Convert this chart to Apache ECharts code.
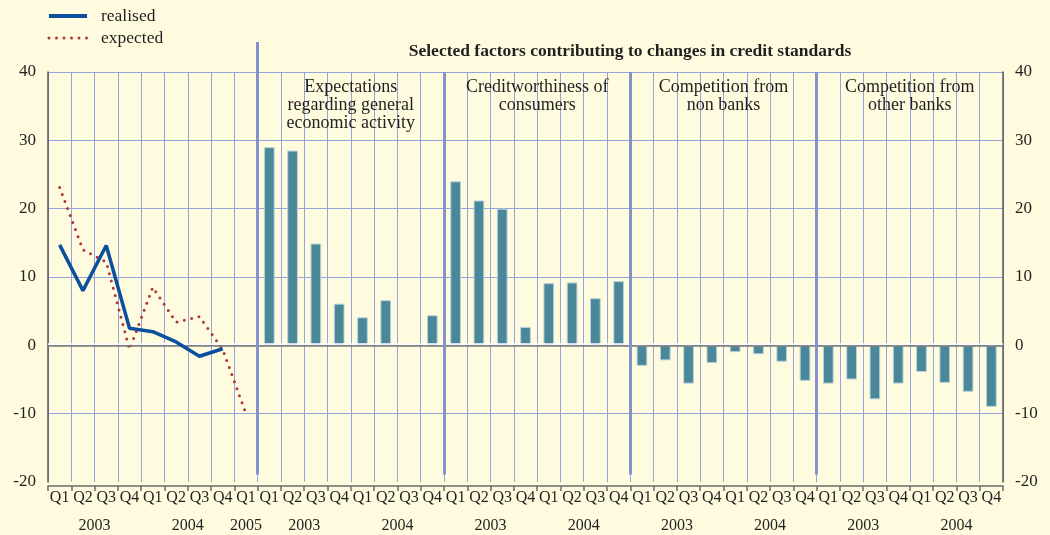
<!DOCTYPE html>
<html>
<head>
<meta charset="utf-8">
<script src="https://cdn.jsdelivr.net/npm/echarts@6/dist/echarts.min.js"></script>
<style>
html,body{margin:0;padding:0;background:#fefbdf;}
#c{width:1050px;height:535px;}
</style>
</head>
<body>
<div id="c"></div>
<script>
// ---- data ----
const quarterLabels = [
  'Q1','Q2','Q3','Q4','Q1','Q2','Q3','Q4','Q1',
  'Q1','Q2','Q3','Q4','Q1','Q2','Q3','Q4',
  'Q1','Q2','Q3','Q4','Q1','Q2','Q3','Q4',
  'Q1','Q2','Q3','Q4','Q1','Q2','Q3','Q4',
  'Q1','Q2','Q3','Q4','Q1','Q2','Q3','Q4'
];
const yearLabels = [
  '2003','2003','2003','2003','2004','2004','2004','2004','2005',
  '2003','2003','2003','2003','2004','2004','2004','2004',
  '2003','2003','2003','2003','2004','2004','2004','2004',
  '2003','2003','2003','2003','2004','2004','2004','2004',
  '2003','2003','2003','2003','2004','2004','2004','2004'
];
const realised = [14.7, 8.0, 14.6, 2.5, 2.0, 0.5, -1.6, -0.5];
const expected = [23.1, 14.0, 12.2, -0.6, 8.5, 3.4, 4.2, -0.6, -10.0];
const expectationsEconomy = [29.0, 28.5, 14.9, 6.1, 4.1, 6.6, -0.2, 4.4];
const creditworthiness = [24.0, 21.2, 20.0, 2.7, 9.1, 9.2, 6.9, 9.4];
const competitionNonBanks = [-3.0, -2.2, -5.6, -2.6, -1.0, -1.3, -2.4, -5.2];
const competitionOtherBanks = [-5.6, -5.0, -7.9, -5.6, -3.9, -5.5, -6.8, -9.0];
const panelNames = [
  'Expectations\nregarding general\neconomic activity',
  'Creditworthiness of\nconsumers',
  'Competition from\nnon banks',
  'Competition from\nother banks'
];
const leftPanelSize = 9;
const panelSize = 8;
const yTicks = {min: -20, max: 40, interval: 10};
const titleText = 'Selected factors contributing to changes in credit standards';

// ---- derived ----
const nCat = quarterLabels.length;
const pad = (arr, before, total) => {
  const out = new Array(total).fill(null);
  arr.forEach((v, i) => out[before + i] = v);
  return out;
};
const barData = pad([].concat(expectationsEconomy, creditworthiness, competitionNonBanks, competitionOtherBanks), leftPanelSize, nCat);
const realisedData = pad(realised, 0, nCat);
const expectedData = pad(expected, 0, nCat);

// year label positions (centre of each run of same year)
const yearPos = [];
const yearAt = {};
let s = 0;
for (let i = 1; i <= nCat; i++) {
  if (i === nCat || yearLabels[i] !== yearLabels[s]) {
    const p = s + (i - s) / 2;
    yearPos.push(p);
    yearAt[p.toFixed(2)] = yearLabels[s];
    s = i;
  }
}
const bounds = [];
for (let k = 0; k < panelNames.length; k++) bounds.push(leftPanelSize + k * panelSize);

// layout
const H = 535, gridTop = 72, gridBottom = 53, overlayTop = 42;
const mainH = H - gridTop - gridBottom;
const overlayH = H - overlayTop - gridBottom;
const overlayMax = yTicks.min + (yTicks.max - yTicks.min) * overlayH / mainH;

const serif = 'Liberation Serif';
const txt = '#231f20';
const gridBlue = '#95a4dc';

const chart = echarts.init(document.getElementById('c'), null, {renderer: 'canvas'});
chart.setOption({
  backgroundColor: '#fefbdf',
  animation: false,
  textStyle: {fontFamily: serif},
  title: {
    text: titleText,
    left: 625, top: 37, textAlign: 'center',
    textStyle: {fontFamily: serif, fontWeight: 'bold', fontSize: 17.5, color: txt}
  },
  legend: {
    left: 42, top: 2, orient: 'vertical', itemGap: 4,
    itemWidth: 38, itemHeight: 18,
    itemStyle: {opacity: 0},
    textStyle: {fontFamily: serif, fontSize: 17.5, color: txt, padding: [0, 0, 0, 9]},
    data: [
      {name: 'realised', lineStyle: {width: 4}},
      {name: 'expected', lineStyle: {width: 3}}
    ]
  },
  grid: [
    {left: 48, right: 47, top: gridTop, bottom: gridBottom},
    {left: 48, right: 47, top: overlayTop, bottom: gridBottom}
  ],
  xAxis: [
    {
      type: 'category', data: quarterLabels, boundaryGap: true, gridIndex: 0,
      position: 'bottom', offset: 4,
      axisLine: {show: true, onZero: false, lineStyle: {color: '#6b6b6b', width: 1.5}},
      axisTick: {show: true, interval: 0, length: 5, lineStyle: {color: '#6b6b6b', width: 1.5}},
      axisLabel: {interval: 0, margin: 4, fontFamily: serif, fontSize: 16, color: txt},
      splitLine: {show: true, interval: 0, lineStyle: {color: gridBlue, width: 1}}
    },
    {
      type: 'value', min: 0, max: nCat, position: 'bottom', offset: 4, gridIndex: 0,
      axisLine: {show: false}, axisTick: {show: false}, splitLine: {show: false},
      axisLabel: {
        customValues: yearPos, margin: 32, fontFamily: serif, fontSize: 16, color: txt,
        formatter: v => yearAt[Number(v).toFixed(2)] || ''
      }
    },
    {
      type: 'value', min: 0, max: nCat, gridIndex: 1, show: false
    }
  ],
  yAxis: [
    {
      type: 'value', min: yTicks.min, max: yTicks.max, interval: yTicks.interval, position: 'left', gridIndex: 0,
      axisLine: {show: true, lineStyle: {color: '#5a5a5a', width: 1.5}},
      axisTick: {show: false},
      axisLabel: {margin: 12, fontFamily: serif, fontSize: 17, color: txt},
      splitLine: {show: true, showMinLine: false, lineStyle: {color: gridBlue, width: 1}}
    },
    {
      type: 'value', min: yTicks.min, max: yTicks.max, interval: yTicks.interval, position: 'right', gridIndex: 0,
      axisLine: {show: true, lineStyle: {color: '#5a5a5a', width: 1.5}},
      axisTick: {show: false},
      axisLabel: {margin: 12, fontFamily: serif, fontSize: 17, color: txt},
      splitLine: {show: false}
    },
    {
      type: 'value', min: yTicks.min, max: overlayMax, gridIndex: 1, show: false
    }
  ],
  series: [
    {
      name: 'factors', type: 'bar', data: barData, barWidth: '46%',
      itemStyle: {color: '#4a8799', borderColor: '#b9d2dc', borderWidth: 1},
      markLine: {
        silent: true, symbol: 'none', label: {show: false},
        lineStyle: {color: '#7d7a76', width: 1.5, type: 'solid', shadowColor: '#ffffff', shadowOffsetY: -2, shadowBlur: 0},
        data: [{yAxis: 0}]
      },
      z: 3
    },
    {
      name: 'realised', type: 'line', data: realisedData, symbol: 'none', connectNulls: false,
      lineStyle: {color: '#0b4f9e', width: 3.5},
      itemStyle: {color: '#0b4f9e'}, z: 5
    },
    {
      name: 'expected', type: 'line', data: expectedData, symbol: 'none', connectNulls: false,
      lineStyle: {color: '#b0363a', width: 3, type: [0, 7.5], cap: 'round'},
      itemStyle: {color: '#b0363a'}, z: 4
    },
    {
      name: 'panels', type: 'line', xAxisIndex: 2, yAxisIndex: 2, data: [], silent: true,
      markLine: {
        silent: true, symbol: 'none', label: {show: false},
        lineStyle: {color: '#8494cf', width: 3, type: 'solid'},
        data: bounds.map((b, k) => [{coord: [b, k === 0 ? overlayMax : yTicks.max]}, {coord: [b, -18.9]}])
      },
      markArea: {
        silent: true,
        itemStyle: {color: 'rgba(0,0,0,0)'},
        label: {show: true, position: 'insideTop', distance: 6, fontFamily: serif, fontSize: 18, lineHeight: 18, color: txt},
        data: panelNames.map((n, k) => [
          {name: n, coord: [bounds[k], yTicks.max]},
          {coord: [bounds[k] + panelSize, yTicks.min]}
        ])
      },
      z: 2
    }
  ]
});
</script>
</body>
</html>
